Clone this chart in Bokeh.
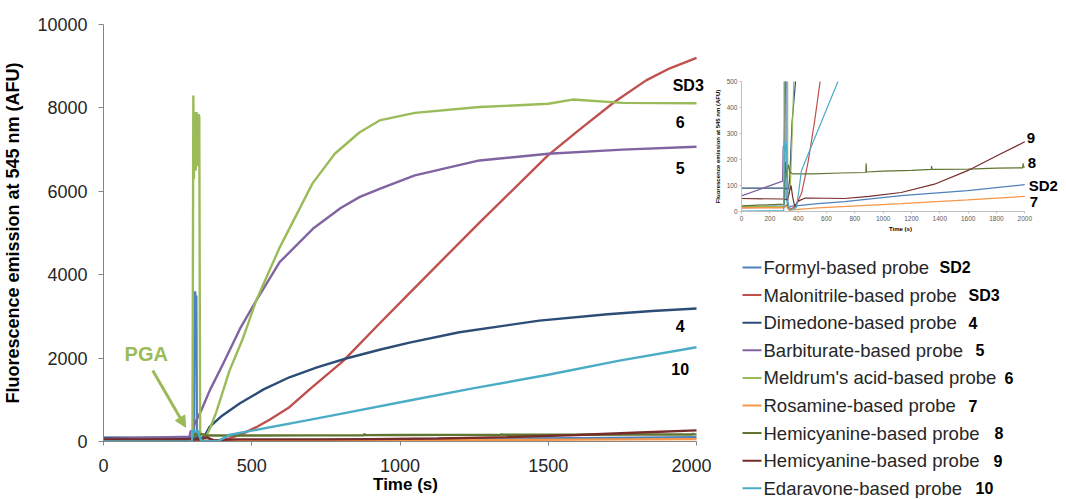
from bokeh.plotting import figure
from bokeh.layouts import row, column
from bokeh.models import Range1d, FixedTicker, Label, Arrow, NormalHead
from bokeh.core.properties import value
from bokeh.embed import file_html
from bokeh.resources import INLINE

FONT = "Liberation Sans"

# ---------------- data ----------------
x_title = "Time (s)"
y_title = "Fluorescence emission at 545 nm (AFU)"
main_x_ticks = [0, 500, 1000, 1500, 2000]
main_y_ticks = [0, 2000, 4000, 6000, 8000, 10000]
inset_x_ticks = [0, 200, 400, 600, 800, 1000, 1200, 1400, 1600, 1800, 2000]
inset_y_ticks = [0, 100, 200, 300, 400, 500]

probe_names = ["Formyl-based probe", "Malonitrile-based probe", "Dimedone-based probe",
               "Barbiturate-based probe", "Meldrum's acid-based probe", "Rosamine-based probe",
               "Hemicyanine-based probe", "Hemicyanine-based probe", "Edaravone-based probe"]
probe_tags = ["SD2", "SD3", "4", "5", "6", "7", "8", "9", "10"]
probe_colors = ["#4F81BD", "#C0504D", "#2C4D75", "#8064A2", "#9BBB59",
                "#F79646", "#5F7530", "#772C2A", "#4BACC6"]

t_sd2 = [0, 300, 304, 307, 309, 311, 313, 315, 330, 345, 540, 728, 1127, 1596, 2000]
v_sd2 = [18, 22, 25, 3400, 3600, 3300, 3500, 60, 10, 20, 30, 38, 61, 80, 103]

t_sd3 = [0, 300, 320, 340, 380, 425, 470, 515, 560, 627, 700, 807, 931, 1032, 1268, 1499,
         1600, 1723, 1830, 1910, 2000]
v_sd3 = [14, 15, 25, 8, 18, 72, 190, 343, 520, 823, 1280, 1920, 2830, 3560, 5250, 6860,
         7450, 8140, 8660, 8950, 9200]

t_4 = [0, 300, 318, 330, 340, 357, 400, 459, 540, 627, 720, 818, 931, 1032, 1200, 1470,
       1700, 1850, 2000]
v_4 = [90, 90, 88, 85, 120, 343, 620, 910, 1250, 1540, 1780, 1990, 2200, 2370, 2620, 2900,
       3050, 3130, 3190]

t_5 = [0, 290, 294, 300, 306, 330, 360, 403, 460, 515, 594, 706, 800, 863, 931, 1050, 1268,
       1500, 1750, 2000]
v_5 = [60, 117, 248, 255, 400, 750, 1250, 1860, 2700, 3380, 4300, 5100, 5600, 5860, 6060,
       6380, 6740, 6900, 7000, 7070]

t_6 = [0, 300, 303, 305, 308, 311, 314, 317, 320, 323, 326, 345, 360, 380, 425, 469, 515,
       594, 705, 780, 863, 931, 1050, 1268, 1500, 1582, 1750, 2000]
v_6 = [18, 20, 8300, 6300, 7900, 6500, 7900, 6600, 7850, 7800, 40, 100, 330, 700, 1700, 2450,
       3380, 4650, 6190, 6900, 7410, 7700, 7880, 8020, 8100, 8200, 8120, 8110]

t_7 = [0, 300, 320, 335, 540, 1127, 1596, 2000]
v_7 = [15, 15, 20, 5, 14, 30, 45, 58]

t_8 = [0, 300, 310, 320, 330, 345, 360, 500, 700, 878, 880, 883, 1000, 1200, 1340, 1342,
       1345, 1600, 1800, 1985, 1988, 1991, 2000]
v_8 = [22, 28, 190, 130, 180, 150, 145, 145, 148, 150, 185, 152, 155, 158, 162, 175, 162,
       163, 167, 168, 185, 170, 172]

t_9 = [0, 300, 325, 340, 350, 360, 375, 400, 450, 728, 900, 1127, 1362, 1596, 1831, 2000]
v_9 = [50, 48, 45, 80, 100, 60, 20, 40, 52, 50, 58, 73, 105, 157, 222, 268]

t_10 = [0, 298, 302, 310, 318, 328, 340, 387, 405, 423, 500, 681, 800, 1032, 1250, 1500,
        1740, 2000]
v_10 = [2, 3, 270, 230, 260, 40, 5, 15, 80, 157, 260, 500, 664, 983, 1280, 1600, 1940, 2260]

series_t = [t_sd2, t_sd3, t_4, t_5, t_6, t_7, t_8, t_9, t_10]
series_v = [v_sd2, v_sd3, v_4, v_5, v_6, v_7, v_8, v_9, v_10]

annotation_text = "PGA"


def style_axis(ax, label_size, title_size, line_color, label_color, tick_out, standoff,
               title_standoff):
    ax.axis_line_color = line_color
    ax.major_tick_line_color = line_color
    ax.major_tick_out = tick_out
    ax.major_tick_in = 0
    ax.minor_tick_line_color = None
    ax.major_label_text_font = FONT
    ax.major_label_text_font_size = label_size
    ax.major_label_text_color = label_color
    ax.major_label_standoff = standoff
    ax.axis_label_text_font = FONT
    ax.axis_label_text_font_size = title_size
    ax.axis_label_text_font_style = "bold"
    ax.axis_label_text_color = "#000000"
    ax.axis_label_standoff = title_standoff


TOP = 24

# ---------------- main chart ----------------
p = figure(frame_width=604, frame_height=417, min_border_left=96, min_border_right=4,
           min_border_top=TOP, min_border_bottom=56,
           x_range=Range1d(0, 2037), y_range=Range1d(0, 10000),
           output_backend="svg", toolbar_location=None)
p.outline_line_color = None
p.grid.visible = False
p.xaxis.ticker = FixedTicker(ticks=main_x_ticks)
p.yaxis.ticker = FixedTicker(ticks=main_y_ticks)
p.xaxis.bounds = (0, 2000)
p.xaxis.axis_label = x_title
p.yaxis.axis_label = y_title
style_axis(p.xaxis[0], "18px", "17px", "#868686", "#262626", 4, 13, 0)
style_axis(p.yaxis[0], "18px", "18px", "#868686", "#262626", 5, 11, 11)

for t, v, c in zip(series_t, series_v, probe_colors):
    p.line(t, v, line_color=c, line_width=2.4)

curve_label_pos = {1: (1972, 8540), 4: (1945, 7670), 3: (1945, 6550), 2: (1945, 2780),
                   8: (1945, 1730)}
for idx, (lx, ly) in curve_label_pos.items():
    p.add_layout(Label(x=lx, y=ly, text=probe_tags[idx], text_align="center",
                       text_baseline="middle", text_font=FONT, text_font_size="16px",
                       text_font_style="bold", text_color="#000000"))

p.add_layout(Label(x=71, y=2110, text=annotation_text, text_align="left",
                   text_baseline="middle", text_font=FONT, text_font_size="20px",
                   text_font_style="bold", text_color=probe_colors[4]))
p.add_layout(Arrow(x_start=166, y_start=1700, x_end=277, y_end=343,
                   line_color=probe_colors[4], line_width=3,
                   end=NormalHead(size=11, fill_color=probe_colors[4],
                                  line_color=probe_colors[4])))

# ---------------- inset ----------------
ins = figure(frame_width=318, frame_height=130, min_border_left=28, min_border_right=0,
             min_border_top=TOP + 57, min_border_bottom=25,
             x_range=Range1d(0, 2245), y_range=Range1d(0, 500),
             output_backend="svg", toolbar_location=None)
ins.outline_line_color = None
ins.grid.visible = False
ins.xaxis.ticker = FixedTicker(ticks=inset_x_ticks)
ins.yaxis.ticker = FixedTicker(ticks=inset_y_ticks)
ins.xaxis.bounds = (0, 2000)
ins.xaxis.axis_label = x_title
ins.yaxis.axis_label = y_title
style_axis(ins.xaxis[0], "6.5px", "6px", "#BFBFBF", "#595959", 2, 2, 2)
style_axis(ins.yaxis[0], "6.5px", "6px", "#BFBFBF", "#595959", 2, 2, 3)

for t, v, c in zip(series_t, series_v, probe_colors):
    ins.line(t, v, line_color=c, line_width=1.2)

inset_label_pos = {7: (2014, 282), 6: (2021, 185), 0: (2028, 100), 5: (2035, 38)}
for idx, (lx, ly) in inset_label_pos.items():
    ins.add_layout(Label(x=lx, y=ly, text=probe_tags[idx], text_align="left",
                         text_baseline="middle", text_font=FONT, text_font_size="15px",
                         text_font_style="bold", text_color="#000000"))

# ---------------- legend panel (drawn as a key) ----------------
# frame aligned with the inset frame (left border 16); x data = px from column's left edge
LW, LH = 346, 262
lp = figure(frame_width=LW - 28, frame_height=LH, min_border_left=28, min_border_right=0,
            min_border_top=0, min_border_bottom=0,
            x_range=Range1d(28, LW), y_range=Range1d(LH, 0),
            x_axis_location=None, y_axis_location=None,
            output_backend="svg", toolbar_location=None)
lp.outline_line_color = None
lp.grid.visible = False

n = len(probe_names)
key_y = [31 + 27.6 * i for i in range(n)]
lp.segment(x0=[29] * n, x1=[48] * n, y0=key_y, y1=key_y, line_color=probe_colors,
           line_width=2)
lp.text(x=[50] * n, y=key_y, text=probe_names, text_align="left", text_baseline="middle",
        text_font=value(FONT), text_font_size="18.5px", text_color="#262626")
tag_x = [226, 255, 255, 262, 291, 255, 281, 280, 262]
lp.text(x=tag_x, y=key_y, text=probe_tags, text_align="left", text_baseline="middle",
        text_font=value(FONT), text_font_size="16px", text_font_style="bold",
        text_color="#000000")

layout = row(p, column(ins, lp))
open("out.html", "w").write(file_html(layout, INLINE))
